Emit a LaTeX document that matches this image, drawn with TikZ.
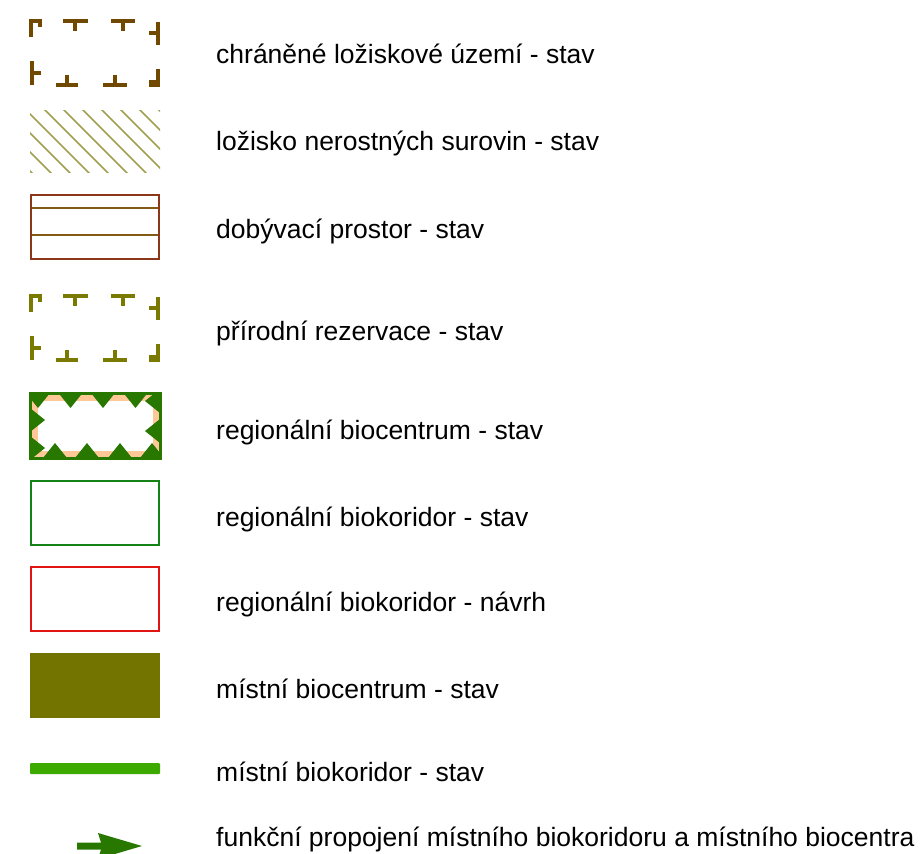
\documentclass[tikz,border=0pt]{standalone}
\usepackage{fontspec}
\setmainfont{Liberation Sans}
\definecolor{cbrown}{RGB}{112,72,0}
\definecolor{colive}{RGB}{122,122,0}
\definecolor{chatch}{RGB}{160,160,80}
\definecolor{credbrown}{RGB}{140,55,25}
\definecolor{cinner}{RGB}{130,90,20}
\definecolor{cdkgreen}{RGB}{40,120,0}
\definecolor{cpeach}{RGB}{255,200,150}
\definecolor{cgreen}{RGB}{20,130,20}
\definecolor{cred}{RGB}{225,20,20}
\definecolor{cfill}{RGB}{115,115,0}
\definecolor{cbar}{RGB}{60,170,0}
\begin{document}
\begin{tikzpicture}[x=1pt,y=-1pt,
  lbl/.style={anchor=base west,inner sep=0pt,font=\fontsize{26.5}{30}\selectfont,text=black},
  marks/.style={line width=3.8pt,line cap=butt},
  outline/.style={line width=2.2pt}]
\useasboundingbox (0,0) rectangle (922,854);
\clip (0,0) rectangle (922,854);
\fill[white] (0,0) rectangle (922,854);

% corner marks
\foreach \dy/\col in {0/cbrown,275/colive}{
\begin{scope}[yshift=-\dy pt]
  \draw[marks,\col] (31,37) -- (31,21) -- (42,21);
  \draw[marks,\col] (40,21) -- (40,27);
  \draw[marks,\col] (63,21) -- (88,21) (75,21) -- (75,31);
  \draw[marks,\col] (111,21) -- (135,21) (123,21) -- (123,31);
  \draw[marks,\col] (158,22) -- (158,45) (149,33) -- (158,33);
  \draw[marks,\col] (32,61) -- (32,85) (32,73) -- (41,73);
  \draw[marks,\col] (56,85) -- (78,85) (67,85) -- (67,75);
  \draw[marks,\col] (103,85) -- (127,85) (115,85) -- (115,75);
  \draw[marks,\col] (158,69) -- (158,86);
  \fill[\col] (149,80) rectangle (159.9,87);
\end{scope}}

% hatch
\begin{scope}
  \clip (30,110) rectangle (160,172);
  \foreach \c in {-160,-141,...,140}{
    \draw[chatch,line width=1.5pt] (\c,0) -- ++(300,300);
  }
\end{scope}

% dobyvaci prostor
\draw[cinner,line width=2pt] (30,208) -- (160,208) (30,235) -- (160,235);
\draw[credbrown,line width=2.4pt] (31,195) rectangle (159,259);

% regionalni biocentrum
\begin{scope}
  \clip (30,393) rectangle (160,458);
  \draw[cpeach,line width=6pt] (34.5,397.5) rectangle (155.5,453.5);
  \foreach \x in {38,70.5,103,135.5}{
    \fill[cdkgreen] (\x-12,393) -- (\x+12,393) -- (\x,408) -- cycle;}
  \foreach \x in {55,87,120,152}{
    \fill[cdkgreen] (\x-12,458) -- (\x+12,458) -- (\x,443) -- cycle;}
  \foreach \y in {401,431}{
    \fill[cdkgreen] (160,\y-12) -- (160,\y+12) -- (145,\y) -- cycle;}
  \foreach \y in {420,448}{
    \fill[cdkgreen] (30,\y-12) -- (30,\y+12) -- (45,\y) -- cycle;}
\end{scope}
\draw[cdkgreen,line width=3pt] (30,393) rectangle (160,458);

% regionalni biokoridor
\draw[cgreen,outline] (31,481) rectangle (159,545);
\draw[cred,outline] (31,567) rectangle (159,631);

% mistni biocentrum
\fill[cfill] (30,653) rectangle (160,718);

% mistni biokoridor
\fill[cbar,rounded corners=1pt] (30,763) rectangle (160,774);

% arrow
\fill[cdkgreen] (77,842.5) -- (101,842.5) -- (98,833) -- (142,846) -- (98,859) -- (101,849.5) -- (77,849.5) -- cycle;

\node[lbl] (t1) at (216,63) {chráněné ložiskové území - stav};
\node[lbl] (t2) at (216,150) {ložisko nerostných surovin - stav};
\node[lbl] (t3) at (216,238) {dobývací prostor - stav};
\node[lbl] (t4) at (216,340) {přírodní rezervace - stav};
\node[lbl] (t5) at (216,439) {regionální biocentrum - stav};
\node[lbl] (t6) at (216,526) {regionální biokoridor - stav};
\node[lbl] (t7) at (216,611) {regionální biokoridor - návrh};
\node[lbl] (t8) at (216,698) {místní biocentrum - stav};
\node[lbl] (t9) at (216,781) {místní biokoridor - stav};
\node[lbl] (t10) at (216,846) {funkční propojení místního biokoridoru a místního biocentra};
\end{tikzpicture}
\end{document}
